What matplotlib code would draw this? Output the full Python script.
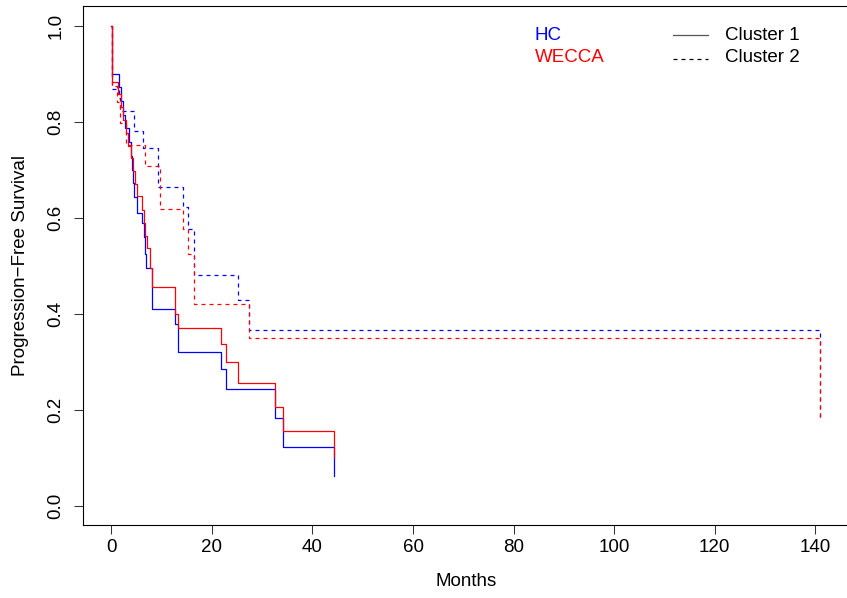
import matplotlib
matplotlib.use("Agg")
import matplotlib.pyplot as plt
from matplotlib.lines import Line2D

plt.rcParams['font.family'] = ['Liberation Sans', 'DejaVu Sans']

# Kaplan-Meier step data (time in months, survival after each event)
hc_c1_t = [0.1, 1.5, 2.0, 2.3, 2.65, 3.45, 3.85, 4.1, 4.3, 4.5, 5.1, 6.0, 6.4, 6.6, 6.8,
           8.0, 12.7, 13.2, 21.8, 22.7, 32.6, 34.2, 44.2]
hc_c1_s = [0.899, 0.871, 0.843, 0.814, 0.786, 0.757, 0.729, 0.700, 0.671, 0.643, 0.610,
           0.588, 0.560, 0.525, 0.494, 0.409, 0.378, 0.320, 0.284, 0.243, 0.183, 0.122, 0.061]

wecca_c1_t = [0.05, 1.3, 2.0, 2.4, 3.0, 3.4, 4.0, 4.3, 4.7, 5.0, 6.0, 6.4, 6.7, 7.0, 7.6,
              8.0, 12.7, 13.2, 21.8, 22.7, 25.2, 32.6, 34.2, 44.2]
wecca_c1_s = [0.883, 0.857, 0.830, 0.803, 0.776, 0.750, 0.723, 0.696, 0.670, 0.645, 0.616,
              0.589, 0.562, 0.536, 0.495, 0.455, 0.398, 0.370, 0.336, 0.299, 0.256, 0.2045,
              0.1545, 0.102]

hc_c2_t = [0.05, 1.5, 1.8, 4.5, 6.2, 9.3, 14.2, 15.2, 16.4, 25.2, 27.4, 141.0]
hc_c2_s = [0.867, 0.850, 0.822, 0.780, 0.744, 0.664, 0.6225, 0.576, 0.480, 0.4275, 0.366, 0.182]

wecca_c2_t = [0.05, 1.2, 1.7, 3.0, 6.6, 9.6, 14.2, 15.2, 16.4, 27.4, 141.0]
wecca_c2_s = [0.875, 0.840, 0.796, 0.751, 0.707, 0.618, 0.576, 0.525, 0.419, 0.3497, 0.182]

series = [
    (hc_c1_t, hc_c1_s, "#0000FF", "-"),
    (hc_c2_t, hc_c2_s, "#0000FF", "--"),
    (wecca_c1_t, wecca_c1_s, "#FF0000", "-"),
    (wecca_c2_t, wecca_c2_s, "#FF0000", "--"),
]

fig = plt.figure(figsize=(8.47, 5.98), dpi=100)
ax = fig.add_axes([83 / 847, (598 - 524.7) / 598, (848.7 - 83) / 847, (524.7 - 6.3) / 598])

for t, s, col, ls in series:
    line, = ax.step([0] + t, [1.0] + s, where="post", color=col, lw=0.9)
    if ls == "--":
        line.set_dashes((3.2, 3.2))

ax.set_xlim(-5.64, 146.64)
ax.set_ylim(-0.04, 1.04)
ax.set_xticks([0, 20, 40, 60, 80, 100, 120, 140])
ax.set_yticks([0.0, 0.2, 0.4, 0.6, 0.8, 1.0])
ax.set_yticklabels(["0.0", "0.2", "0.4", "0.6", "0.8", "1.0"], rotation=90, va="center")
ax.tick_params(labelsize=13.5, length=6.5, width=0.75, color="#333333")
ax.tick_params(axis="x", pad=4)
ax.tick_params(axis="y", pad=7)
for sp in ax.spines.values():
    sp.set_linewidth(0.8)

ax.set_xlabel("Months", fontsize=13.5, labelpad=12)
fig.text(21 / 847, 1 - 265 / 598, "Progression\u2212Free Survival", rotation=90,
         fontsize=13.5, ha="center", va="center")

# legends
fig.text(535 / 847, 1 - 35 / 598, "HC", color="#0000FF", fontsize=13.5, va="center")
fig.text(535 / 847, 1 - 58 / 598, "WECCA", color="#FF0000", fontsize=13.5, va="center")
fig.add_artist(Line2D([673 / 847, 708 / 847], [1 - 35 / 598, 1 - 35 / 598],
                      color="#555555", lw=0.9, transform=fig.transFigure))
fig.add_artist(Line2D([673 / 847, 708 / 847], [1 - 59 / 598, 1 - 59 / 598],
                      color="black", lw=0.9, dashes=(3.2, 3.2), transform=fig.transFigure))
fig.text(725 / 847, 1 - 35 / 598, "Cluster 1", fontsize=13.5, va="center")
fig.text(725 / 847, 1 - 58 / 598, "Cluster 2", fontsize=13.5, va="center")

fig.savefig("out.png", dpi=100)
